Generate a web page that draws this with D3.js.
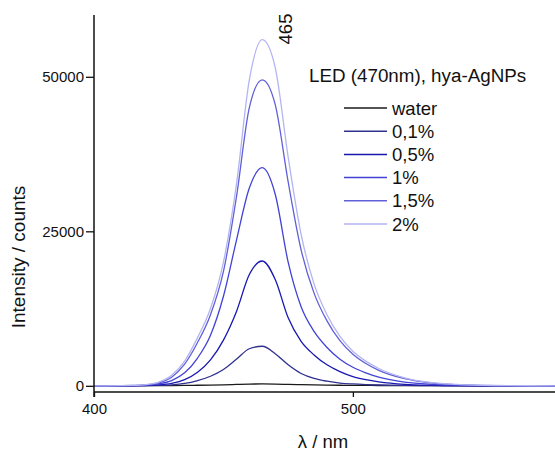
<!DOCTYPE html>
<html>
<head>
<meta charset="utf-8">
<script src="https://cdn.jsdelivr.net/npm/d3@7"></script>
<style>
  body { margin: 0; background: #fff; }
  text { font-family: "Liberation Sans", Arial, sans-serif; fill: #111; }
</style>
</head>
<body>
<script>
// chart size
var w = 555;
var h = 452;

var wavelengths = [400, 410, 415, 420, 425, 430, 435, 440, 445, 450, 455, 460, 465, 470, 475, 480, 485, 490, 495, 500, 505, 510, 520, 530, 540, 550, 560, 580];

// intensities (counts), one array per sample
var water   = [0, 10, 15, 20, 30, 40, 60, 90, 120, 160, 220, 280, 300, 280, 230, 180, 140, 110, 90, 70, 60, 50, 40, 30, 20, 10, 5, 0];
var c01     = [0, 5, 10, 25, 60, 150, 380, 850, 1550, 2650, 4300, 6000, 6400, 5200, 3400, 2000, 1200, 750, 450, 300, 200, 130, 60, 20, 10, 0, 0, 0];
var c05     = [0, 10, 20, 50, 140, 400, 1000, 2200, 4200, 7400, 12000, 18000, 20200, 17200, 11000, 7200, 5000, 3400, 2300, 1500, 1000, 650, 250, 100, 40, 10, 0, 0];
var c1      = [0, 15, 40, 110, 320, 850, 2100, 4500, 8200, 14500, 23500, 32000, 35300, 31000, 20000, 12800, 8800, 6200, 4300, 3000, 2100, 1400, 600, 250, 100, 30, 10, 0];
var c15     = [0, 20, 50, 160, 480, 1400, 3500, 7000, 11500, 18500, 30500, 45000, 49500, 45500, 33000, 22000, 15000, 10500, 7300, 5100, 3600, 2500, 1150, 480, 190, 70, 20, 0];
var c2      = [0, 25, 60, 200, 600, 1700, 4000, 7800, 12500, 20000, 32500, 49500, 56000, 51500, 37000, 24500, 16500, 11500, 8000, 5600, 4000, 2800, 1300, 550, 220, 80, 20, 0];

var seriesNames = ["water", "0,1%", "0,5%", "1%", "1,5%", "2%"];
var seriesValues = [water, c01, c05, c1, c15, c2];
var seriesColors = ["#1a1a1a", "#30308f", "#1818b0", "#4242d6", "#6060d8", "#b4b4f2"];

var xTicks = [400, 500];
var yTicks = [0, 25000, 50000];
var peakLabel = 465;

// scales
var xScale = d3.scaleLinear()
      .domain([400, 580])
      .range([94, 560]);

var yScale = d3.scaleLinear()
      .domain([-1000, 60000])
      .range([392, 15]);

var svg = d3.select("body")
      .append("svg")
      .attr("width", w)
      .attr("height", h);

// curves
var line = d3.line()
      .x(function(d) { return xScale(d[0]); })
      .y(function(d) { return yScale(d[1]); })
      .curve(d3.curveMonotoneX);

svg.append("g")
    .selectAll("path")
    .data(seriesValues)
    .enter()
    .append("path")
    .attr("d", function(vals) {
          return line(wavelengths.map(function(x, i) { return [x, vals[i]]; }));
    })
    .attr("fill", "none")
    .attr("stroke", function(d, i) { return seriesColors[i]; })
    .attr("stroke-width", 1.3);

// axes
var xAxis = d3.axisBottom(xScale)
      .tickValues(xTicks)
      .tickSize(5)
      .tickPadding(6)
      .tickFormat(d3.format("d"));

var yAxis = d3.axisLeft(yScale)
      .tickValues(yTicks)
      .tickSize(8)
      .tickPadding(2)
      .tickFormat(d3.format("d"));

var gx = svg.append("g")
    .attr("transform", "translate(0," + 392 + ")")
    .call(xAxis);

var gy = svg.append("g")
    .attr("transform", "translate(" + 94 + ",0)")
    .call(yAxis);

[gx, gy].forEach(function(g) {
      g.select(".domain").attr("stroke", "#111").attr("stroke-width", 1.5);
      g.selectAll(".tick line").attr("stroke", "#111").attr("stroke-width", 1.3);
      g.selectAll(".tick text")
            .attr("font-size", "15px")
            .attr("font-family", "Liberation Sans, Arial, sans-serif")
            .attr("fill", "#111");
});
// y axis reaches down to the tick at 400
gx.select(".domain").attr("d", "M" + xScale(400) + ",0H" + w);
gy.select(".domain").attr("d", "M0," + yScale(60000) + "V" + 397);

// axis titles
svg.append("text")
    .attr("x", 323)
    .attr("y", 448)
    .attr("text-anchor", "middle")
    .attr("font-size", "18.5px")
    .text("λ / nm");

svg.append("text")
    .attr("transform", "translate(25,257) rotate(-90)")
    .attr("text-anchor", "middle")
    .attr("font-size", "19px")
    .text("Intensity / counts");

// peak label
svg.append("text")
    .attr("transform", "translate(" + (xScale(peakLabel) + 30) + ",29) rotate(-90)")
    .attr("text-anchor", "middle")
    .attr("font-size", "18.5px")
    .text(peakLabel);

// legend
svg.append("text")
    .attr("x", 309)
    .attr("y", 82)
    .attr("font-size", "18.8px")
    .text("LED (470nm), hya-AgNPs");

var legend = svg.append("g")
    .selectAll("g")
    .data(seriesNames)
    .enter()
    .append("g")
    .attr("transform", function(d, i) { return "translate(344," + (108 + i * 23.2) + ")"; });

legend.append("line")
    .attr("x1", 0)
    .attr("x2", 43)
    .attr("stroke", function(d, i) { return seriesColors[i]; })
    .attr("stroke-width", 1.5);

legend.append("text")
    .attr("x", 48)
    .attr("y", 6.5)
    .attr("font-size", "18.5px")
    .text(function(d) { return d; });
</script>
</body>
</html>
